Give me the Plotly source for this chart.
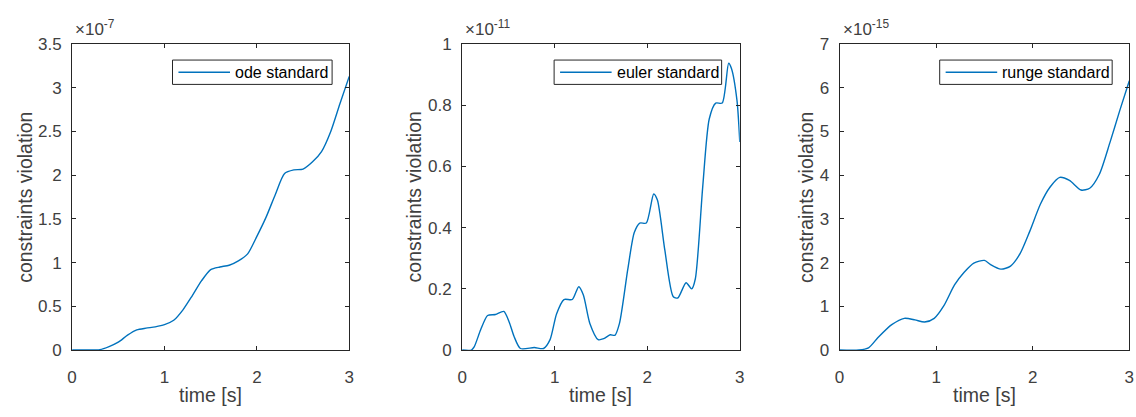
import plotly.graph_objects as go

# ---- data ----
t_ode = [0, 0.1, 0.2, 0.3, 0.4, 0.5, 0.6, 0.7, 0.8, 0.9, 1.0, 1.1, 1.2, 1.3, 1.4, 1.5,
         1.6, 1.7, 1.8, 1.9, 2.0, 2.1, 2.2, 2.3, 2.4, 2.5, 2.6, 2.7, 2.8, 2.9, 3.0]
v_ode = [0, 0, 0, 0.005, 0.04, 0.09, 0.17, 0.23, 0.25, 0.265, 0.29, 0.34, 0.46, 0.62, 0.79, 0.92,
         0.95, 0.97, 1.02, 1.10, 1.30, 1.52, 1.78, 2.02, 2.06, 2.07, 2.15, 2.27, 2.50, 2.82, 3.13]

t_euler = [0, 0.1, 0.13, 0.2, 0.275, 0.36, 0.45, 0.51, 0.56, 0.63, 0.78, 0.88, 0.95, 1.02, 1.10,
           1.19, 1.26, 1.31, 1.38, 1.47, 1.53, 1.60, 1.65, 1.70, 1.79, 1.86, 1.92, 1.99, 2.07,
           2.11, 2.19, 2.28, 2.33, 2.42, 2.48, 2.52, 2.60, 2.67, 2.74, 2.81, 2.88, 2.91, 2.97, 3.0]
v_euler = [0, 0, 0.01, 0.066, 0.113, 0.116, 0.126, 0.09, 0.045, 0.005, 0.008, 0.005, 0.034, 0.118,
           0.165, 0.165, 0.207, 0.18, 0.087, 0.034, 0.037, 0.05, 0.048, 0.087, 0.264, 0.384, 0.415,
           0.415, 0.51, 0.49, 0.327, 0.175, 0.17, 0.22, 0.20, 0.233, 0.535, 0.755, 0.807, 0.807,
           0.937, 0.92, 0.815, 0.68]

t_runge = [0, 0.2, 0.3, 0.4, 0.54, 0.67, 0.78, 0.88, 0.98, 1.08, 1.19, 1.29, 1.39, 1.50, 1.56,
           1.67, 1.77, 1.87, 1.97, 2.08, 2.18, 2.28, 2.38, 2.50, 2.59, 2.69, 2.80, 2.90, 3.0]
v_runge = [0, 0, 0.05, 0.29, 0.58, 0.725, 0.69, 0.64, 0.725, 1.015, 1.49, 1.78, 1.99, 2.05, 1.96,
           1.85, 1.92, 2.21, 2.72, 3.34, 3.73, 3.95, 3.88, 3.66, 3.70, 4.02, 4.75, 5.47, 6.16]

names = ["ode standard", "euler standard", "runge standard"]
exponents = ["-7", "-11", "-15"]
y_max = [3.5, 1.0, 7.0]
y_ticks = [[0, 0.5, 1, 1.5, 2, 2.5, 3, 3.5],
           [0, 0.2, 0.4, 0.6, 0.8, 1],
           [0, 1, 2, 3, 4, 5, 6, 7]]
y_ticktext = [["0", "0.5", "1", "1.5", "2", "2.5", "3", "3.5"],
              ["0", "0.2", "0.4", "0.6", "0.8", "1"],
              ["0", "1", "2", "3", "4", "5", "6", "7"]]
x_ticks = [0, 1, 2, 3]
series_t = [t_ode, t_euler, t_runge]
series_v = [v_ode, v_euler, v_runge]

# ---- layout geometry (pixels of a 1136x417 page) ----
W, H = 1136, 417
px_left = [67.7, 461.2, 842.0]
px_right = [347.3, 741.3, 1134.3]
px_top, px_bottom = 36.7, 357.3
leg_box = [(169, 330), (554, 723), (943, 1117)]  # x ranges of legend boxes
leg_y = (53.5, 79)
ylab_x = [20, 413, 808]

LINE = "#0072BD"
AX = "#262626"
TXT = "#404040"
FONT = "Liberation Sans, Arial, sans-serif"

fig = go.Figure()
shapes, annotations = [], []
for i in range(3):
    xa = "x" if i == 0 else f"x{i+1}"
    ya = "y" if i == 0 else f"y{i+1}"
    fig.add_trace(go.Scatter(x=series_t[i], y=series_v[i], mode="lines", name=names[i],
                             line=dict(color=LINE, width=1.4, shape="spline", smoothing=0.7),
                             xaxis=xa, yaxis=ya, showlegend=False, cliponaxis=True))
    axcommon = dict(showgrid=False, zeroline=False, showline=True, linecolor=AX, linewidth=1,
                    mirror="ticks", ticks="inside", ticklen=4, tickcolor=AX,
                    tickfont=dict(family=FONT, size=17, color=TXT))
    xkey = "xaxis" if i == 0 else f"xaxis{i+1}"
    ykey = "yaxis" if i == 0 else f"yaxis{i+1}"
    fig.update_layout(**{
        xkey: dict(domain=[px_left[i] / W, px_right[i] / W], range=[0, 3], tickvals=x_ticks,
                   ticktext=[str(v) for v in x_ticks], anchor=ya, ticklabelstandoff=12, **axcommon),
        ykey: dict(domain=[1 - px_bottom / H, 1 - px_top / H], range=[0, y_max[i]],
                   tickvals=y_ticks[i], ticktext=y_ticktext[i], anchor=xa, ticklabelstandoff=6,
                   **axcommon),
    })
    # legend box (drawn manually like MATLAB)
    x0, x1 = leg_box[i]
    shapes.append(dict(type="rect", xref="paper", yref="paper", x0=x0 / W, x1=x1 / W,
                       y0=1 - leg_y[1] / H, y1=1 - leg_y[0] / H,
                       line=dict(color=AX, width=1), fillcolor="white"))
    ymid = 1 - (leg_y[0] + leg_y[1]) / 2 / H
    shapes.append(dict(type="line", xref="paper", yref="paper", x0=(x0 + 6) / W, x1=(x0 + 58) / W,
                       y0=ymid, y1=ymid, line=dict(color=LINE, width=1.4)))
    annotations.append(dict(text=names[i], xref="paper", yref="paper", x=(x0 + 61) / W, y=ymid,
                            xanchor="left", yanchor="middle", showarrow=False,
                            font=dict(family=FONT, size=16, color="black")))
    # exponent label
    annotations.append(dict(text="×10<sup>" + exponents[i] + "</sup>", xref="paper", yref="paper",
                            x=(px_left[i] + 1) / W, y=1 - (px_top - 3) / H, xanchor="left",
                            yanchor="bottom", showarrow=False,
                            font=dict(family=FONT, size=17, color=TXT)))
    # axis titles
    annotations.append(dict(text="time [s]", xref="paper", yref="paper",
                            x=(px_left[i] + px_right[i]) / 2 / W, y=1 - 404 / H,
                            xanchor="center", yanchor="middle", showarrow=False,
                            font=dict(family=FONT, size=19.5, color=TXT)))
    annotations.append(dict(text="constraints violation", xref="paper", yref="paper",
                            x=ylab_x[i] / W, y=1 - (px_top + px_bottom) / 2 / H, textangle=-90,
                            xanchor="center", yanchor="middle", showarrow=False,
                            font=dict(family=FONT, size=19.5, color=TXT)))

fig.update_layout(width=W, height=H, margin=dict(l=0, r=0, t=0, b=0),
                  paper_bgcolor="white", plot_bgcolor="white",
                  shapes=shapes, annotations=annotations, showlegend=False)
fig.write_html("out.html")
